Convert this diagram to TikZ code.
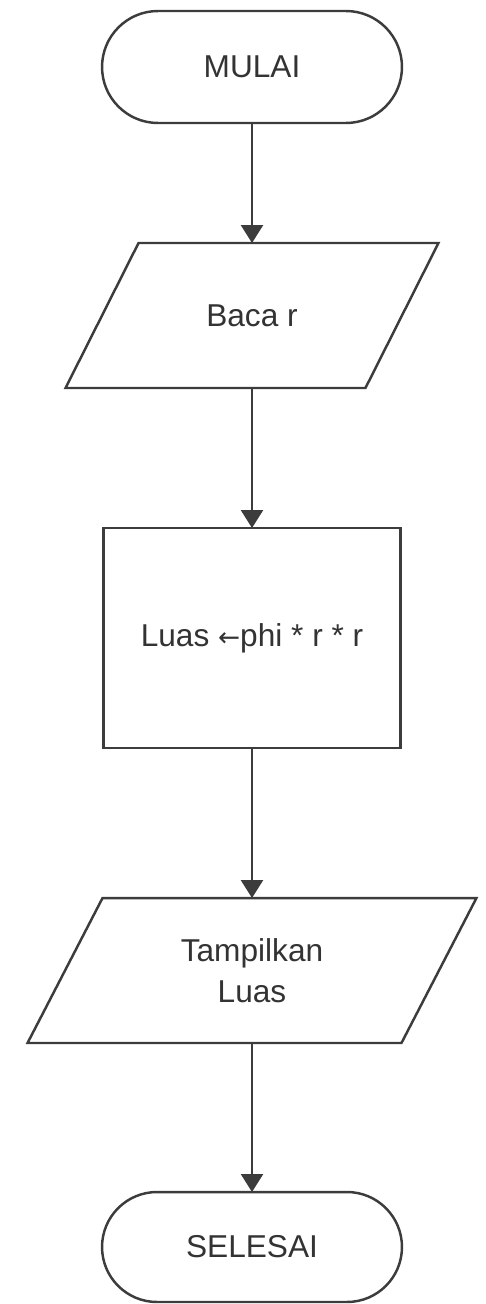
\documentclass[tikz,border=0pt]{standalone}
\usepackage{fontspec}
\setmainfont{Liberation Sans}
\newfontfamily\arrowfont{DejaVu Sans}
\usetikzlibrary{shapes.misc,arrows.meta}
\definecolor{linec}{HTML}{3C3C3C}
\definecolor{textc}{HTML}{333333}
\begin{document}
\begin{tikzpicture}[x=0.02cm,y=-0.02cm,
  base/.style={draw=linec,line width=1.4pt,fill=white,text=textc,
    font=\fontsize{18}{23}\selectfont,inner sep=0pt,outer sep=0pt,align=center},
  terminal/.style={base,rounded rectangle,minimum width=6cm},
  io/.style={text=textc,font=\fontsize{18}{23}\selectfont,inner sep=0pt,outer sep=0pt,
    align=center,rectangle,minimum height=2.9cm},
  iooutline/.style={draw=linec,line width=1.4pt,line join=miter},
  process/.style={base,rectangle,minimum width=5.94cm,minimum height=4.4cm},
  flow/.style={draw=linec,line width=1.4pt,-{Triangle[length=0.36cm,width=0.44cm]}}]
\useasboundingbox[fill=white] (0,0) rectangle (485,1304);
\node[terminal,minimum height=2.24cm] (mulai) at (252,67) {MULAI};
\node[io,minimum width=7.46cm] (baca) at (252,315.5) {Baca r};
\draw[iooutline] ([xshift=1.46cm]baca.north west) -- (baca.north east)
  -- ([xshift=-1.46cm]baca.south east) -- (baca.south west) -- cycle;
\node[process] (luas) at (252,638) {Luas {\arrowfont\fontsize{15}{18}\selectfont ←}phi * r * r};
\node[io,minimum width=8.98cm] (tampil) at (252,970.5) {Tampilkan\\Luas};
\draw[iooutline] ([xshift=1.5cm]tampil.north west) -- (tampil.north east)
  -- ([xshift=-1.5cm]tampil.south east) -- (tampil.south west) -- cycle;
\node[terminal,minimum height=2.2cm] (selesai) at (252,1247) {SELESAI};
\draw[flow] (mulai.south) -- (baca.north);
\draw[flow] (baca.south) -- (luas.north);
\draw[flow] (luas.south) -- (tampil.north);
\draw[flow] (tampil.south) -- (selesai.north);
\end{tikzpicture}
\end{document}
